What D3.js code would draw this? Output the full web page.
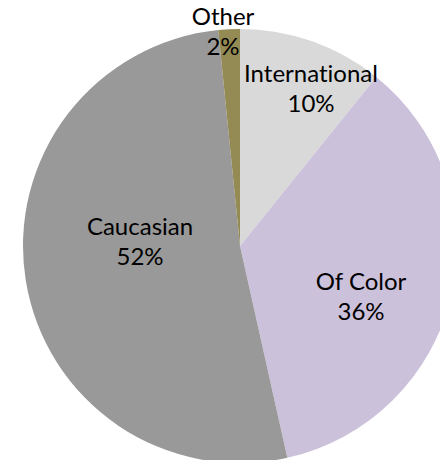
<!DOCTYPE html>
<html>
<head>
<meta charset="utf-8">
<script src="https://cdn.jsdelivr.net/npm/d3@7"></script>
<style>
    body { margin: 0; background: #fff; }
    .sliceLabel { font-family: Lato, "Open Sans", sans-serif; fill: #000; font-variant-ligatures: none; font-feature-settings: "liga" 0; }
</style>
</head>
<body>
<script>
//wrap in an anonymous function so nothing ends up in global scope
(function(){

    //chart data
    var categories = ["International", "Of Color", "Caucasian", "Other"];
    var shares = [10.8, 35.7, 51.9, 1.6]; //percent
    var pctLabels = ["10%", "36%", "52%", "2%"];
    var colors = ["#d9d9d9", "#ccc1da", "#999999", "#948a54"];

    //label block offsets from the pie centre (Excel "best fit" spots)
    var labelOffsets = [[71, -157], [121, 51], [-100, -4], [-17, -214]];

    window.onload = drawPie();

    function drawPie(){
        var width = 440,
            height = 460,
            radius = 217,
            cx = 240,
            cy = 246;

        var svg = d3.select("body")
            .append("svg")
            .attr("width", width)
            .attr("height", height);

        var g = svg.append("g")
            .attr("transform", "translate(" + cx + "," + cy + ")");

        //slices clockwise from 12 o'clock, keep data order
        var pie = d3.pie()
            .sort(null)
            .value(function(d){ return d; });

        var arc = d3.arc()
            .innerRadius(0)
            .outerRadius(radius);

        var arcs = pie(shares);

        g.selectAll(".slice")
            .data(arcs)
            .enter()
            .append("path")
            .attr("class", "slice")
            .attr("d", arc)
            .style("fill", function(d, i){ return colors[i]; });

        //two-line labels: category name then percent
        var fontSize = 24,
            lineGap = 30;

        var labels = g.selectAll(".sliceLabel")
            .data(arcs)
            .enter()
            .append("text")
            .attr("class", "sliceLabel")
            .attr("text-anchor", "middle")
            .style("font-size", fontSize + "px")
            .attr("transform", function(d, i){
                return "translate(" + labelOffsets[i][0] + "," + labelOffsets[i][1] + ")";
            });

        labels.append("tspan")
            .attr("x", 0)
            .attr("y", -lineGap / 2 + fontSize * 0.35)
            .text(function(d, i){ return categories[i]; });

        labels.append("tspan")
            .attr("x", 0)
            .attr("y", lineGap / 2 + fontSize * 0.35)
            .text(function(d, i){ return pctLabels[i]; });
    }

})();
</script>
</body>
</html>
